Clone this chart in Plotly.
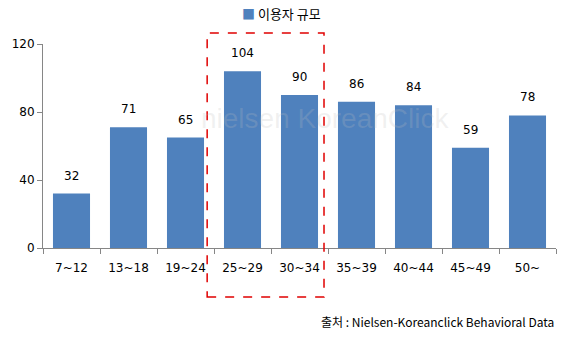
import plotly.graph_objects as go

categories = ["7~12", "13~18", "19~24", "25~29", "30~34", "35~39", "40~44", "45~49", "50~"]
values = [32, 71, 65, 104, 90, 86, 84, 59, 78]
series_name = "이용자 규모"
y_ticks = [0, 40, 80, 120]
source_text = "출처 : Nielsen-Koreanclick Behavioral Data"
bar_color = "#4F81BD"

font_main = "DejaVu Sans, Noto Sans CJK KR, sans-serif"

fig = go.Figure()
fig.add_trace(go.Bar(
    x=categories, y=values, name=series_name,
    marker=dict(color=bar_color, line=dict(width=0)),
    width=0.65, showlegend=False,
))

for c, v in zip(categories, values):
    fig.add_annotation(x=c, y=v, text=str(v), showarrow=False, yanchor="bottom",
                       yshift=9, font=dict(size=12, color="#000000", family=font_main))

fig.update_layout(
    width=561, height=338,
    margin=dict(l=43, r=5, t=44, b=90, autoexpand=False),
    paper_bgcolor="white", plot_bgcolor="white",
    font=dict(family=font_main, size=12, color="#000000"),
    showlegend=False,
    xaxis=dict(showline=True, linecolor="#868686", linewidth=1, ticks="outside",
               tickson="boundaries", ticklen=5, tickcolor="#868686",
               tickfont=dict(size=12), showgrid=False, zeroline=False,
               ticklabelstandoff=9),
    yaxis=dict(range=[0, 120], tickvals=y_ticks, showline=True, linecolor="#868686",
               linewidth=1, ticks="outside", ticklen=5, tickcolor="#868686",
               showgrid=False, zeroline=False, tickfont=dict(size=12)),
)

# legend (manual)
fig.add_annotation(text=f"<span style='color:{bar_color}'>■</span> {series_name}",
                   xref="paper", yref="paper", x=(281 - 43) / 513, xanchor="center",
                   y=(248 - 13) / 204, yanchor="middle", showarrow=False,
                   font=dict(size=13, family="Noto Sans CJK KR, sans-serif", color="#000000"))

# dashed highlight box
fig.add_shape(type="rect", xref="x", yref="paper", x0=2.38, x1=4.43, y0=-0.24, y1=1.054,
              line=dict(color="#E00000", width=1.5, dash="dash"), fillcolor="rgba(0,0,0,0)")

# faint watermark
fig.add_annotation(text="nielsen KoreanClick", xref="paper", yref="paper", x=0.55, y=0.635,
                   showarrow=False, font=dict(size=28, color="rgba(190,190,190,0.22)",
                                              family="Liberation Sans, sans-serif"))

fig.add_annotation(text=source_text, xref="paper", yref="paper", x=1.0, xanchor="right",
                   y=(248 - 321) / 204, yanchor="middle", showarrow=False,
                   font=dict(size=12, family="Noto Sans CJK KR, sans-serif", color="#000000"))

fig.write_html("out.html")
